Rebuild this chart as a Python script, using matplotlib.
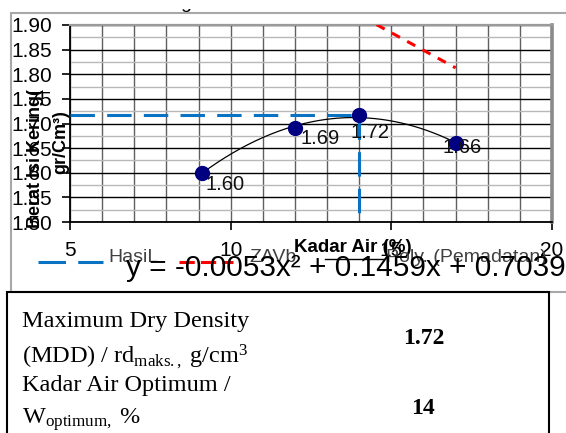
import numpy as np
import matplotlib
matplotlib.use("Agg")
import matplotlib.pyplot as plt
from matplotlib.lines import Line2D
from matplotlib.patches import Rectangle
from matplotlib.transforms import Bbox

plt.rcParams["font.family"] = ["Liberation Sans", "DejaVu Sans"]
plt.rcParams["mathtext.fontset"] = "custom"
plt.rcParams["mathtext.rm"] = "Liberation Serif"
plt.rcParams["mathtext.it"] = "Liberation Serif:italic"
plt.rcParams["mathtext.bf"] = "Liberation Serif:bold"

# data
moisture = [9.1, 12.0, 14.0, 17.0]
density = [1.60, 1.69, 1.717, 1.66]
point_labels = ["1.60", "1.69", "1.72", "1.66"]
label_offsets = [(4, -12), (6, -10), (11, -17), (7, -4)]   # pixels
label_ha = ["left", "left", "center", "center"]

zav_moisture = [12.0, 14.0, 17.0]
zav_density = [1.995, 1.92, 1.813]

mdd = 1.717
w_opt = 14.0
equation = "y = -0.0053x\u00b2 + 0.1459x + 0.7039"

xticks = [5, 10, 15, 20]
yticks = [1.50, 1.55, 1.60, 1.65, 1.70, 1.75, 1.80, 1.85, 1.90]

W, H = 566, 433
fig = plt.figure(figsize=(W / 100, H / 100), dpi=100)


def fx(px):
    return px / W


def fy(py):
    return 1 - py / H


ax = fig.add_axes([fx(70), fy(222), fx(552) - fx(70), fy(25) - fy(222)])
ax.set_xlim(5, 20)
ax.set_ylim(1.50, 1.90)
ax.set_xticks(xticks)
ax.set_xticks(np.arange(5, 21, 1), minor=True)
ax.set_yticks(yticks)
ax.set_yticks(np.arange(1.50, 1.901, 0.025), minor=True)
ax.set_yticklabels([f"{v:.2f}" for v in yticks])
ax.tick_params(axis="both", which="major", labelsize=15, length=6, width=1.2,
               colors="black")
ax.tick_params(axis="y", which="major", pad=7)
ax.tick_params(axis="x", which="major", pad=8)
ax.tick_params(which="minor", length=0)

ax.grid(True, axis="y", which="minor", color="#b8b8b8", lw=1.0)
ax.grid(True, axis="y", which="major", color="black", lw=1.0)
ax.grid(True, axis="x", which="both", color="#606060", lw=1.0)
ax.set_axisbelow(True)

ax.spines["left"].set_color("black")
ax.spines["left"].set_linewidth(1.3)
ax.spines["bottom"].set_color("black")
ax.spines["bottom"].set_linewidth(1.3)
ax.spines["top"].set_color("#9a9a9a")
ax.spines["top"].set_linewidth(1.6)
ax.spines["right"].set_color("#8a8a8a")
ax.spines["right"].set_linewidth(2.6)

# hasil: MDD / optimum lines
ax.plot([5, w_opt], [mdd, mdd], color="#0a72c2", lw=2.2, dashes=(8, 4), zorder=3)
ax.plot([w_opt, w_opt], [mdd, 1.50], color="#0a72c2", lw=2.2, dashes=(8, 4), zorder=3)

# ZAV line
ax.plot(zav_moisture, zav_density, color="red", lw=2.2, dashes=(3, 2.7), zorder=3)

# poly trend
coef = np.polyfit(moisture, density, 2)
xs = np.linspace(min(moisture), max(moisture), 200)
ax.plot(xs, np.polyval(coef, xs), color="black", lw=0.9, zorder=4)

ax.plot(moisture, density, "o", color="#000080", ms=10, zorder=5)
for x, y, lab, off, ha in zip(moisture, density, point_labels, label_offsets, label_ha):
    ax.annotate(lab, (x, y), xytext=off, textcoords="offset pixels",
                ha=ha, va="center", fontsize=14.5, color="#111111", zorder=6)

# axis titles
fig.text(fx(353), fy(248), "Kadar Air (%)", fontsize=13.5, fontweight="bold",
         ha="center", va="center")
fig.text(fx(36), fy(159), "Berat Isi Kering(", fontsize=13, fontweight="bold",
         rotation=90, ha="center", va="center")
fig.text(fx(61), fy(142), "gr/Cm\u00b3)", fontsize=13, fontweight="bold",
         rotation=90, ha="center", va="center")

# legend row
fig.add_artist(Line2D([fx(38), fx(103)], [fy(262), fy(262)], color="#0a72c2",
                      lw=2.2, dashes=(9, 4)))
fig.text(fx(108), fy(257), "HasiL", fontsize=14, color="#404040", va="center")
fig.add_artist(Line2D([fx(179), fx(233)], [fy(262), fy(262)], color="red",
                      lw=2.2, dashes=(5, 2)))
fig.text(fx(249), fy(257), "ZAVb", fontsize=14, color="#404040", va="center")
fig.add_artist(Line2D([fx(325), fx(384)], [fy(259), fy(259)], color="black", lw=1))
fig.text(fx(386), fy(257), "Poly. (Pemadatan)", fontsize=14, color="#404040",
         va="center")

fig.text(fx(566), fy(268), equation, fontsize=21.4, ha="right", va="center",
         color="black")

# clipped title fragment at the top
t = fig.text(fx(186), fy(8.5), "g", fontsize=14, ha="center", va="baseline")
t.set_clip_box(Bbox([[0, H - 14], [W, H - 8.5]]))
t.set_clip_on(True)

# chart frame and table below
fig.add_artist(Rectangle((fx(11), fy(292)), fx(600) - fx(11), fy(13) - fy(292),
                         transform=fig.transFigure, fill=False,
                         edgecolor="#a8a8a8", lw=1.5))
fig.add_artist(Rectangle((fx(7), fy(480)), fx(549) - fx(7), fy(292) - fy(480),
                         transform=fig.transFigure, fill=False,
                         edgecolor="black", lw=1.5))

serif = ["Liberation Serif", "DejaVu Serif"]
fig.text(fx(22), fy(322), "Maximum Dry Density", family=serif, fontsize=17.5,
         va="center")
fig.text(fx(22), fy(357), "(MDD) / rd$_{\\mathrm{maks.,}}$ g/cm$^{3}$", family=serif,
         fontsize=17.5, va="center")
fig.text(fx(22), fy(386), "Kadar Air Optimum /", family=serif, fontsize=17.5,
         va="center")
fig.text(fx(22), fy(420), "W$_{\\mathrm{optimum,}}$ %", family=serif,
         fontsize=17.5, va="center")
fig.text(fx(424), fy(339), "1.72", family=serif, fontsize=17, fontweight="bold",
         ha="center", va="center")
fig.text(fx(423), fy(408), "14", family=serif, fontsize=17, fontweight="bold",
         ha="center", va="center")

fig.savefig("out.png", dpi=100)
